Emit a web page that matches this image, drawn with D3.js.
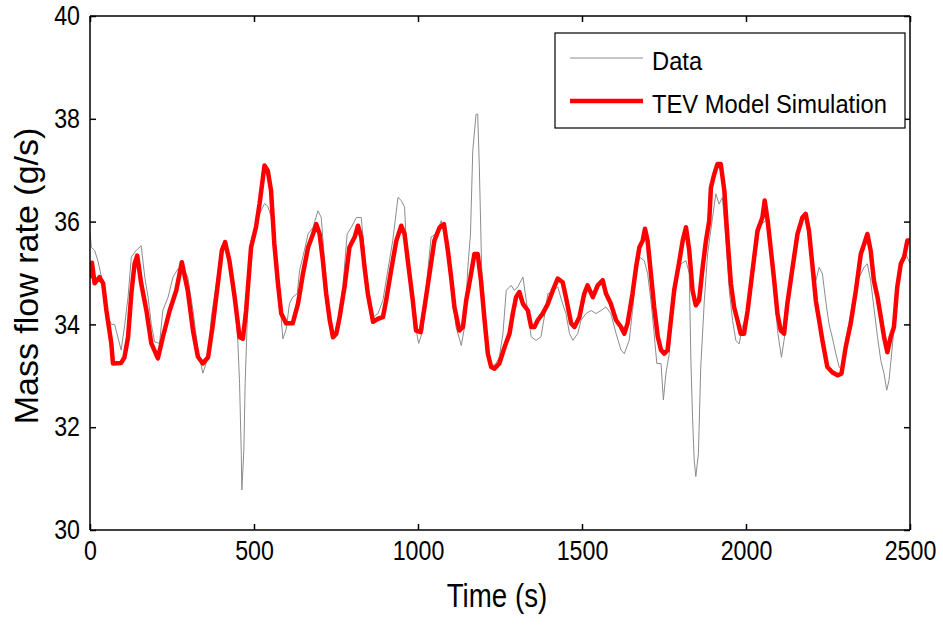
<!DOCTYPE html>
<html>
<head>
<meta charset="utf-8">
<script src="https://cdn.jsdelivr.net/npm/d3@7"></script>
<style>
  html, body { margin: 0; padding: 0; background: #fff; }
  svg { display: block; }
  text { font-family: "Liberation Sans", Arial, Helvetica, sans-serif; fill: #000; }
</style>
</head>
<body>
<svg id="chart" width="943" height="626"></svg>
<script>
// ---- Data ----
const dataTime = [0,4,14,24,35,45,55,65,75,85,95,106,116,126,141,156,167,177,187,197,212,222,238,253,268,283,298,314,329,344,360,370,385,400,410,425,441,451,456,461,463,469,473,479,486,502,517,532,542,552,567,578,588,598,608,618,632,639,649,665,680,695,705,715,725,736,746,756,771,784,797,812,827,837,847,863,878,893,908,923,939,949,959,964,974,989,1002,1015,1025,1040,1055,1071,1081,1091,1101,1116,1132,1142,1152,1160,1167,1177,1182,1187,1194,1203,1213,1223,1238,1248,1259,1269,1284,1294,1304,1320,1330,1345,1360,1375,1385,1396,1411,1426,1441,1451,1462,1472,1487,1497,1512,1528,1543,1558,1573,1588,1604,1619,1629,1644,1654,1665,1675,1690,1700,1710,1720,1728,1741,1748,1756,1766,1776,1786,1802,1817,1827,1832,1837,1842,1847,1855,1862,1873,1883,1898,1908,1918,1928,1939,1949,1959,1969,1979,1989,2005,2020,2035,2045,2061,2071,2086,2096,2108,2116,2126,2142,2157,2167,2177,2192,2213,2223,2233,2243,2253,2263,2274,2284,2294,2304,2319,2335,2350,2360,2370,2380,2390,2401,2411,2421,2429,2436,2446,2456,2466,2477,2487,2500];
const dataFlow = [35.8,35.5,35.44,35.24,34.92,34.53,34.14,34.0,34.0,33.75,33.5,34.0,34.53,35.31,35.44,35.53,34.92,34.53,34.0,33.66,33.63,34.27,34.53,34.92,35.08,35.1,34.92,34.27,33.5,33.05,33.36,34.14,34.8,35.44,35.5,35.31,34.53,33.63,32.85,31.55,30.78,31.55,32.85,34.0,34.92,35.89,36.15,36.35,36.3,36.1,35.44,34.5,33.72,33.9,34.4,34.53,34.6,35.05,35.31,35.76,35.89,36.21,36.08,35.24,34.34,33.95,33.82,34.08,34.73,35.76,35.89,36.08,36.08,35.37,34.73,34.14,34.21,34.47,35.05,35.63,36.47,36.41,36.28,35.63,34.98,34.08,33.63,33.88,34.73,35.7,35.76,36.02,35.76,35.37,34.73,33.95,33.59,33.95,35.11,35.76,37.38,38.09,38.09,37.06,35.11,34.34,33.56,33.17,33.24,33.37,33.82,34.66,34.76,34.66,34.73,34.92,34.47,33.76,33.69,33.76,34.14,34.6,34.63,34.73,34.4,34.21,33.82,33.69,33.82,34.08,34.21,34.27,34.21,34.27,34.34,34.21,33.82,33.5,33.43,33.69,34.27,34.99,35.31,35.24,34.99,34.47,33.82,33.24,33.24,32.53,33.05,33.43,34.27,34.86,35.18,35.24,34.99,33.3,32.2,31.36,31.04,31.49,33.17,34.47,35.37,36.08,36.54,36.34,36.47,35.63,34.66,34.08,33.69,33.62,33.95,34.27,34.98,35.69,35.95,36.02,35.76,34.79,33.88,33.36,33.69,34.2,35.05,35.69,36.05,36.15,35.76,34.85,35.11,34.98,34.46,34.01,33.75,33.43,33.17,33.1,33.69,34.2,34.79,34.98,35.11,35.18,34.85,34.33,33.75,33.3,33.04,32.72,32.91,33.56,34.33,34.98,35.24,35.37,35.18];

const modelTime = [0,6,14,29,40,50,65,70,95,105,116,126,136,144,156,172,187,207,222,243,263,280,298,314,329,344,360,375,390,402,412,425,441,456,466,476,491,506,517,532,542,552,562,573,583,598,618,634,649,665,680,690,700,710,720,731,741,751,761,776,791,807,817,827,837,847,863,878,893,903,918,934,949,959,969,984,994,1008,1020,1035,1050,1066,1079,1091,1101,1111,1126,1137,1147,1160,1172,1182,1192,1203,1213,1223,1233,1248,1264,1279,1289,1299,1309,1320,1335,1345,1355,1365,1380,1396,1411,1426,1441,1451,1467,1477,1492,1507,1517,1533,1548,1563,1573,1588,1604,1619,1629,1639,1654,1665,1675,1685,1692,1700,1710,1720,1731,1741,1751,1761,1771,1781,1797,1807,1817,1827,1837,1847,1857,1868,1878,1888,1893,1903,1913,1923,1934,1944,1954,1964,1974,1984,1994,2005,2020,2035,2050,2057,2066,2076,2086,2096,2106,2116,2126,2142,2157,2172,2182,2192,2203,2213,2223,2233,2248,2263,2279,2291,2304,2319,2335,2350,2360,2370,2380,2390,2401,2411,2421,2431,2441,2451,2461,2472,2482,2492,2500];
const modelFlow = [34.9,35.2,34.8,34.92,34.8,34.27,33.63,33.24,33.25,33.36,33.75,34.6,35.18,35.34,34.8,34.27,33.63,33.34,33.75,34.27,34.66,35.21,34.66,33.88,33.37,33.24,33.36,34.02,34.8,35.44,35.6,35.24,34.53,33.75,33.72,34.27,35.5,35.89,36.35,37.09,36.99,36.6,35.57,34.8,34.21,34.02,34.02,34.4,34.98,35.5,35.76,35.95,35.76,35.24,34.6,34.08,33.75,33.82,34.14,34.73,35.5,35.7,35.92,35.7,35.11,34.6,34.05,34.11,34.14,34.47,35.05,35.63,35.92,35.76,35.24,34.47,33.88,33.85,34.34,34.98,35.63,35.89,35.95,35.44,34.92,34.34,33.88,33.95,34.47,34.92,35.37,35.37,34.85,34.08,33.43,33.17,33.14,33.24,33.56,33.82,34.21,34.53,34.63,34.4,34.27,33.95,33.95,34.08,34.21,34.4,34.66,34.89,34.82,34.53,34.02,33.95,34.14,34.6,34.76,34.53,34.76,34.86,34.6,34.4,34.08,33.95,33.82,34.02,34.6,35.12,35.5,35.63,35.86,35.63,34.99,34.34,33.76,33.5,33.43,33.5,34.08,34.66,35.24,35.63,35.89,35.44,34.66,34.37,34.47,35.12,35.63,36.02,36.66,36.92,37.12,37.12,36.6,35.63,34.79,34.33,34.08,33.82,33.82,34.27,35.05,35.82,36.08,36.41,36.02,35.44,34.85,34.2,33.88,33.82,34.4,35.11,35.76,36.08,36.15,35.82,35.11,34.46,34.08,33.69,33.17,33.07,33.01,33.04,33.56,34.01,34.66,35.37,35.56,35.76,35.44,34.85,34.53,34.14,33.75,33.46,33.75,33.95,34.72,35.18,35.31,35.63,35.63];

const xTicks = [0, 500, 1000, 1500, 2000, 2500];
const yTicks = [30, 32, 34, 36, 38, 40];
const seriesNames = ["Data", "TEV Model Simulation"];
const xLabel = "Time (s)";
const yLabel = "Mass flow rate (g/s)";

// ---- Layout ----
const svg = d3.select("#chart");
const L = 90, R = 910, T = 16, B = 530;
const x = d3.scaleLinear().domain([0, 2500]).range([L, R]);
const y = d3.scaleLinear().domain([30, 40]).range([B, T]);
const squeeze = 0.86; // MATLAB-like narrow glyphs

const clipId = "plotclip";
svg.append("defs").append("clipPath").attr("id", clipId)
  .append("rect").attr("x", L).attr("y", T).attr("width", R - L).attr("height", B - T);

const plot = svg.append("g").attr("clip-path", `url(#${clipId})`);

const lineData = d3.line().x((d, i) => x(dataTime[i])).y((d) => y(d));
plot.append("path").datum(dataFlow)
  .attr("d", lineData)
  .attr("fill", "none").attr("stroke", "#8c8c8c").attr("stroke-width", 1);

const lineModel = d3.line().x((d, i) => x(modelTime[i])).y((d) => y(d));
plot.append("path").datum(modelFlow)
  .attr("d", lineModel)
  .attr("fill", "none").attr("stroke", "#ff0000").attr("stroke-width", 4.5)
  .attr("stroke-linejoin", "round");

// ---- Axes (MATLAB-style box with inward ticks) ----
const tickLen = 6;
const fontTick = 27;
const bottomAxis = d3.axisBottom(x).tickValues(xTicks).tickSize(-tickLen).tickPadding(11).tickFormat(d3.format("d"));
const leftAxis = d3.axisLeft(y).tickValues(yTicks).tickSize(-tickLen).tickPadding(10).tickFormat(d3.format("d"));
const topAxis = d3.axisTop(x).tickValues(xTicks).tickSize(-tickLen).tickFormat("");
const rightAxis = d3.axisRight(y).tickValues(yTicks).tickSize(-tickLen).tickFormat("");

function styleAxis(g) {
  g.select(".domain").attr("stroke", "#000").attr("stroke-width", 1.5);
  g.selectAll(".tick line").attr("stroke", "#000").attr("stroke-width", 1.5);
  g.selectAll(".tick text").attr("font-size", fontTick)
    .attr("font-family", '"Liberation Sans", Arial, sans-serif').attr("fill", "#000")
    .each(function () {
      const t = d3.select(this);
      const xx = +t.attr("x") || 0;
      t.attr("x", xx / squeeze).attr("transform", `scale(${squeeze},1)`);
    });
}

svg.append("g").attr("transform", `translate(0,${B})`).call(bottomAxis).call(styleAxis)
  .call(g => g.select(".domain").attr("d", `M${L},0H${R}`));
svg.append("g").attr("transform", `translate(${L},0)`).call(leftAxis).call(styleAxis)
  .call(g => g.select(".domain").attr("d", `M0,${B}V${T}`));
svg.append("g").attr("transform", `translate(0,${T})`).call(topAxis).call(styleAxis)
  .call(g => g.select(".domain").attr("d", `M${L},0H${R}`));
svg.append("g").attr("transform", `translate(${R},0)`).call(rightAxis).call(styleAxis)
  .call(g => g.select(".domain").attr("d", `M0,${B}V${T}`));

// ---- Axis titles ----
svg.append("text")
  .attr("transform", `translate(497,607) scale(0.84,1)`)
  .attr("text-anchor", "middle").attr("font-size", 33)
  .text(xLabel);

svg.append("text")
  .attr("transform", `translate(38,276) rotate(-90)`)
  .attr("text-anchor", "middle").attr("font-size", 34)
  .text(yLabel);

// ---- Legend ----
const lg = svg.append("g");
lg.append("rect").attr("x", 555).attr("y", 33).attr("width", 350).attr("height", 95)
  .attr("fill", "#fff").attr("stroke", "#000").attr("stroke-width", 1.2);
const legendItems = [
  { name: seriesNames[0], color: "#8c8c8c", w: 1, yy: 58 },
  { name: seriesNames[1], color: "#ff0000", w: 4.5, yy: 101 }
];
legendItems.forEach(it => {
  lg.append("line").attr("x1", 570).attr("x2", 643).attr("y1", it.yy).attr("y2", it.yy)
    .attr("stroke", it.color).attr("stroke-width", it.w);
  lg.append("text").attr("transform", `translate(652,${it.yy + 12}) scale(0.95,1)`)
    .attr("font-size", 25).text(it.name);
});
</script>
</body>
</html>
